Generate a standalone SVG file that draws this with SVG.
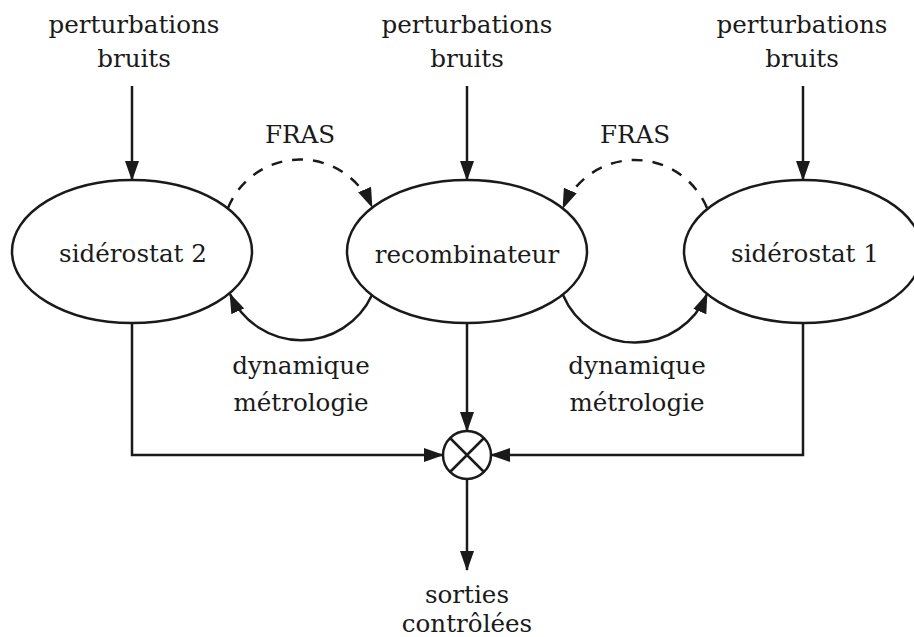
<svg xmlns="http://www.w3.org/2000/svg" width="914" height="637" viewBox="0 0 914 637">
  <style>
    text { font-family: "DejaVu Serif", "Liberation Serif", serif; font-size: 24.6px; fill: #1a1a1a; text-anchor: middle; }
    .node { fill: none; stroke: #1a1a1a; stroke-width: 2.5; }
    .wire { fill: none; stroke: #1a1a1a; stroke-width: 2.5; }
    .dash { stroke-dasharray: 11 10; }
  </style>
  <defs>
    <marker id="arrow" markerUnits="userSpaceOnUse" viewBox="0 0 20 14" refX="19" refY="7" markerWidth="20" markerHeight="14" orient="auto">
      <path d="M0,0 L20,7 L0,14 Z" fill="#1a1a1a"/>
    </marker>
  </defs>

  <!-- input labels -->
  <g id="inputs">
    <text x="134" y="33">perturbations</text>
    <text x="134" y="67">bruits</text>
    <text x="467" y="33">perturbations</text>
    <text x="467" y="67">bruits</text>
    <text x="802" y="33">perturbations</text>
    <text x="802" y="67">bruits</text>
  </g>

  <g id="siderostat2">
    <ellipse class="node" cx="132" cy="251.5" rx="120" ry="71.5"/>
    <text x="133" y="262">sidérostat 2</text>
  </g>

  <g id="recombinateur">
    <ellipse class="node" cx="467" cy="251.5" rx="120" ry="71.5"/>
    <text x="467" y="263">recombinateur</text>
  </g>

  <g id="siderostat1">
    <ellipse class="node" cx="803" cy="251.5" rx="119" ry="71.5"/>
    <text x="805" y="262">sidérostat 1</text>
  </g>

  <g id="sum">
    <circle class="node" cx="467" cy="455" r="24"/>
    <path class="node" d="M450,438 L484,472 M484,438 L450,472"/>
  </g>

  <g id="labels">
    <text x="300" y="143">FRAS</text>
    <text x="635" y="143">FRAS</text>
    <text x="301" y="374">dynamique</text>
    <text x="301" y="411">métrologie</text>
    <text x="637" y="374">dynamique</text>
    <text x="637" y="411">métrologie</text>
    <text x="467" y="603">sorties</text>
    <text x="467" y="632">contrôlées</text>
  </g>

  <g id="connectors">
    <!-- disturbances entering each block -->
    <path class="wire" d="M132,86 V180" marker-end="url(#arrow)"/>
    <path class="wire" d="M467,86 V180" marker-end="url(#arrow)"/>
    <path class="wire" d="M803,86 V180" marker-end="url(#arrow)"/>
    <!-- FRAS links (dashed) -->
    <path class="wire dash" d="M228,208 A78,78 0 0 1 372,207" marker-end="url(#arrow)"/>
    <path class="wire dash" d="M707,208 A78,78 0 0 0 563,208" marker-end="url(#arrow)"/>
    <!-- dynamics / metrology links -->
    <path class="wire" d="M372,295 A78,78 0 0 1 230,294" marker-end="url(#arrow)"/>
    <path class="wire" d="M563,295 A78,78 0 0 0 707,294" marker-end="url(#arrow)"/>
    <!-- outputs to the summing junction -->
    <path class="wire" d="M132,323 V455 H443" marker-end="url(#arrow)"/>
    <path class="wire" d="M803,323 V455 H491" marker-end="url(#arrow)"/>
    <path class="wire" d="M467,323 V431" marker-end="url(#arrow)"/>
    <path class="wire" d="M467,479 V570" marker-end="url(#arrow)"/>
  </g>
</svg>
